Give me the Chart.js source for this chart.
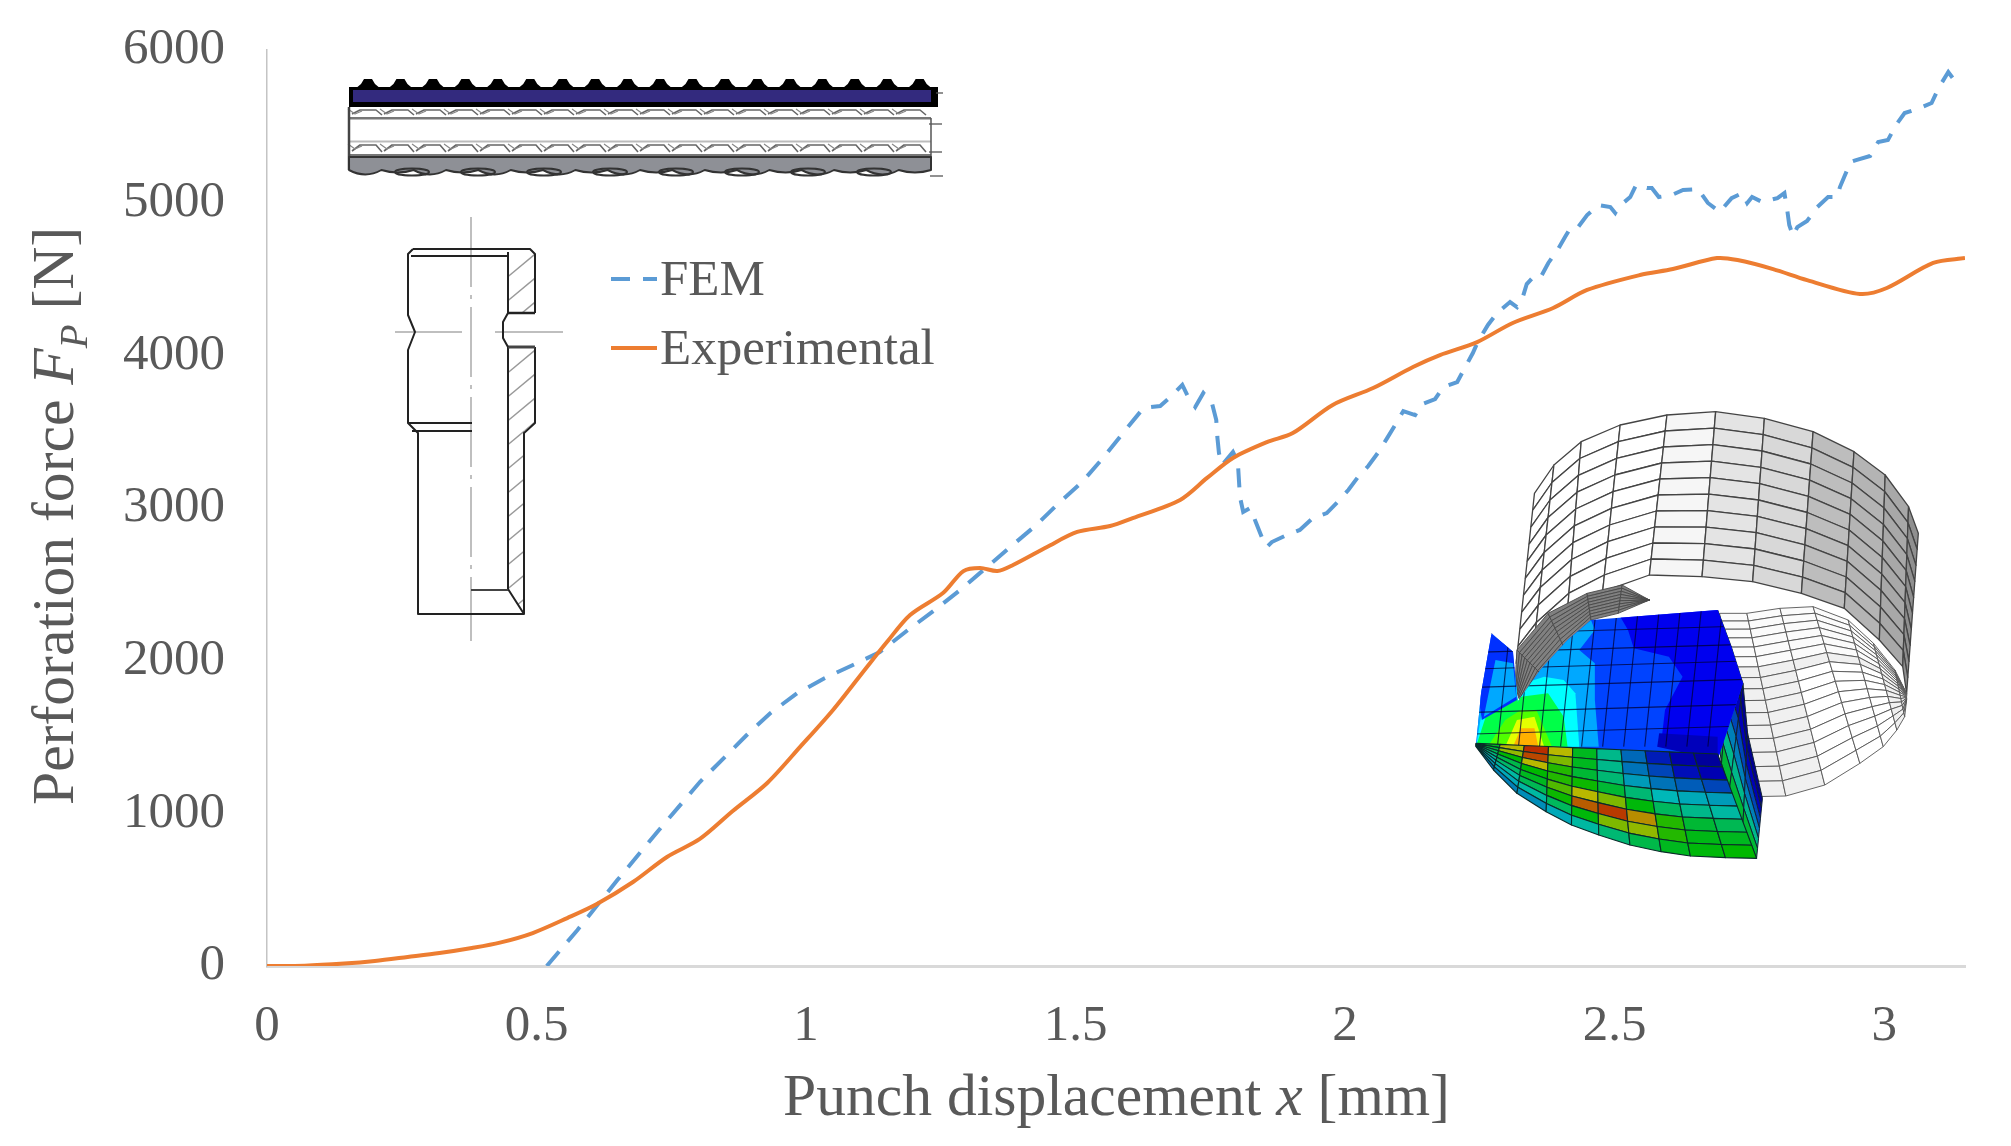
<!DOCTYPE html>
<html>
<head>
<meta charset="utf-8">
<title>Perforation force</title>
<script src="https://cdn.jsdelivr.net/npm/chart.js@4/dist/chart.umd.min.js"></script>
<style>
  html, body { margin: 0; padding: 0; background: #fff; }
  canvas { display: block; }
</style>
</head>
<body>
<canvas id="forceChart" width="2011" height="1146" style="width:2011px;height:1146px"></canvas>
<script>
/* =========================================
   Data
   ========================================= */
var femX = [0.519, 0.576, 0.65, 0.724, 0.803, 0.89, 0.934, 0.984, 1.035, 1.087, 1.137, 1.189, 1.239, 1.286, 1.379, 1.425, 1.467, 1.512, 1.551, 1.588, 1.626, 1.657, 1.676, 1.698, 1.709, 1.722, 1.737, 1.753, 1.761, 1.763, 1.766, 1.772, 1.792, 1.801, 1.805, 1.811, 1.824, 1.835, 1.846, 1.855, 1.864, 1.892, 1.916, 1.94, 1.966, 1.986, 2.006, 2.024, 2.043, 2.062, 2.078, 2.093, 2.108, 2.13, 2.143, 2.167, 2.182, 2.208, 2.222, 2.237, 2.246, 2.265, 2.282, 2.306, 2.319, 2.328, 2.337, 2.349, 2.362, 2.377, 2.394, 2.408, 2.418, 2.431, 2.449, 2.47, 2.492, 2.501, 2.507, 2.529, 2.54, 2.56, 2.569, 2.582, 2.606, 2.627, 2.655, 2.673, 2.695, 2.717, 2.737, 2.746, 2.755, 2.774, 2.802, 2.815, 2.82, 2.824, 2.831, 2.839, 2.857, 2.876, 2.896, 2.913, 2.918, 2.929, 2.937, 2.948, 2.974, 2.989, 3.007, 3.022, 3.038, 3.066, 3.088, 3.101, 3.119, 3.138];
var femY = [0, 236, 563, 878, 1205, 1513, 1657, 1788, 1886, 1972, 2057, 2201, 2332, 2463, 2745, 2882, 3026, 3170, 3328, 3491, 3655, 3668, 3727, 3806, 3727, 3662, 3753, 3688, 3576, 3465, 3360, 3282, 3367, 3301, 3072, 2974, 3000, 2902, 2804, 2745, 2777, 2823, 2856, 2934, 2967, 3039, 3118, 3203, 3275, 3367, 3458, 3544, 3635, 3609, 3681, 3714, 3792, 3825, 3917, 4015, 4087, 4199, 4277, 4349, 4316, 4362, 4467, 4513, 4506, 4605, 4690, 4775, 4834, 4834, 4919, 4985, 4971, 4932, 4971, 5037, 5116, 5096, 5096, 5037, 5050, 5083, 5089, 4998, 4939, 5030, 5063, 4998, 5037, 5004, 5030, 5063, 4958, 4854, 4782, 4840, 4880, 4971, 5037, 5037, 5102, 5194, 5266, 5279, 5306, 5397, 5410, 5509, 5587, 5620, 5653, 5751, 5856, 5764];

var expX = [0, 0.07, 0.143, 0.2, 0.261, 0.32, 0.38, 0.432, 0.493, 0.557, 0.612, 0.679, 0.742, 0.803, 0.864, 0.928, 0.989, 1.05, 1.113, 1.15, 1.193, 1.254, 1.292, 1.323, 1.355, 1.384, 1.447, 1.503, 1.564, 1.606, 1.694, 1.744, 1.792, 1.855, 1.903, 1.977, 2.052, 2.126, 2.176, 2.245, 2.311, 2.386, 2.449, 2.547, 2.608, 2.69, 2.728, 2.794, 2.857, 2.955, 3.005, 3.091, 3.15];
var expY = [0, 2, 16, 33, 59, 85, 118, 153, 216, 314, 406, 550, 714, 832, 1015, 1199, 1435, 1677, 1959, 2122, 2299, 2443, 2587, 2607, 2587, 2627, 2745, 2843, 2882, 2934, 3053, 3197, 3328, 3432, 3491, 3675, 3786, 3924, 4002, 4087, 4212, 4310, 4428, 4526, 4565, 4637, 4624, 4565, 4493, 4402, 4441, 4605, 4637];

var xTicks = [0, 0.5, 1, 1.5, 2, 2.5, 3];
var yTicks = [0, 1000, 2000, 3000, 4000, 5000, 6000];
var seriesNames = ['FEM', 'Experimental'];

var xMax = 3.15;
var yMax = 6000;
var textColor = '#595959';
var serif = '"Liberation Serif", "Times New Roman", serif';

function pairs(xs, ys) {
    return xs.map(function(x, i) { return { x: x, y: ys[i] }; });
}

/* =========================================
   Text pieces Chart.js cannot mix in one title
   ========================================= */
function drawRuns(ctx, runs, x, y) {
    runs.forEach(function(r) {
        ctx.font = r.font;
        ctx.fillText(r.text, x, y + (r.drop || 0));
        x += ctx.measureText(r.text).width;
    });
}

var labelsPlugin = {
    id: 'labelsPlugin',
    afterDraw: function(chart) {
        var ctx = chart.ctx;
        var plain = '59.6px ' + serif;
        var ital = 'italic 59.6px ' + serif;
        ctx.save();
        ctx.fillStyle = textColor;
        ctx.textAlign = 'left';
        ctx.textBaseline = 'alphabetic';

        // axis titles
        drawRuns(ctx, [
            { text: 'Punch displacement ', font: plain },
            { text: 'x', font: ital },
            { text: ' [mm]', font: plain }
        ], 783, 1115);
        ctx.save();
        ctx.translate(73, 805);
        ctx.rotate(-Math.PI / 2);
        drawRuns(ctx, [
            { text: 'Perforation force ', font: plain },
            { text: 'F', font: ital },
            { text: 'P', font: 'italic 39px ' + serif, drop: 14 },
            { text: ' [N]', font: plain }
        ], 0, 0);
        ctx.restore();

        // legend
        var ys = [295, 364];
        chart.data.datasets.forEach(function(ds, i) {
            ctx.save();
            ctx.strokeStyle = ds.borderColor;
            ctx.lineWidth = 4;
            ctx.setLineDash(ds.borderDash || []);
            ctx.beginPath();
            ctx.moveTo(611, ys[i] - 16);
            ctx.lineTo(657, ys[i] - 16);
            ctx.stroke();
            ctx.restore();
            ctx.font = '51px ' + serif;
            ctx.fillText(ds.label, 660, ys[i]);
        });
        ctx.restore();
    }
};

/* =========================================
   Insets (drawings, not data)
   ========================================= */
function line(ctx, pts, color, width, dash) {
    ctx.strokeStyle = color;
    ctx.lineWidth = width;
    ctx.setLineDash(dash || []);
    ctx.beginPath();
    pts.forEach(function(p, i) { i ? ctx.lineTo(p[0], p[1]) : ctx.moveTo(p[0], p[1]); });
    ctx.stroke();
    ctx.setLineDash([]);
}

function shape(ctx, pts, fill, stroke, width) {
    ctx.beginPath();
    pts.forEach(function(p, i) { i ? ctx.lineTo(p[0], p[1]) : ctx.moveTo(p[0], p[1]); });
    ctx.closePath();
    if (fill) { ctx.fillStyle = fill; ctx.fill(); }
    if (stroke) { ctx.strokeStyle = stroke; ctx.lineWidth = width || 1; ctx.stroke(); }
}

function drawStrip(ctx) {
    var i, x;
    // bumps on the top
    for (i = 0; i < 18; i++) {
        x = 368 + i * 32.45;
        shape(ctx, [[x - 13, 89], [x - 7, 84], [x - 4, 79], [x + 4, 79], [x + 7, 84], [x + 13, 89]], '#000');
    }
    ctx.fillStyle = '#000';
    ctx.fillRect(349, 87, 589, 20);
    ctx.fillStyle = '#332A7E';
    ctx.fillRect(353, 90, 578, 12);

    // fibre layers
    ctx.fillStyle = '#fff';
    ctx.fillRect(349, 107, 582, 56);
    [[108, 117], [143, 154]].forEach(function(b) {
        ctx.fillStyle = '#777';
        ctx.fillRect(349, b[1], 582, 2.5);
        for (x = 352; x < 925; x += 32) {
            line(ctx, [[x, b[1] - 3], [x + 8, b[0] + 2], [x + 24, b[0] + 2], [x + 30, b[1] - 2]], '#666', 1.6);
            line(ctx, [[x - 4, b[0] + 1], [x + 3, b[0] + 6], [x + 10, b[0] + 3]], '#888', 1.2);
        }
    });
    line(ctx, [[350, 141.5], [931, 141.5]], '#bbb', 2);
    line(ctx, [[349, 107], [349, 170]], '#444', 2.5);
    line(ctx, [[931, 118], [931, 165]], '#555', 1.5);

    // grey lower layer with scallops
    ctx.beginPath();
    ctx.moveTo(349, 157);
    ctx.lineTo(931, 157);
    ctx.lineTo(931, 170);
    for (i = 0; i < 18; i++) {
        x = 931 - i * 32.33;
        ctx.quadraticCurveTo(x - 16, i % 2 ? 179 : 175, x - 32.33, 170);
    }
    ctx.closePath();
    ctx.fillStyle = '#8E9096';
    ctx.fill();
    ctx.strokeStyle = '#333';
    ctx.lineWidth = 2;
    ctx.stroke();
    for (x = 379; x < 900; x += 66) {
        ctx.beginPath();
        ctx.ellipse(x + 33, 172, 17, 3.5, 0, 0, Math.PI * 2);
        ctx.stroke();
    }
    // short marks at the cut end
    [[93, 936, 943], [124, 929, 942], [152, 929, 942], [176, 930, 943]].forEach(function(m) {
        line(ctx, [[m[1], m[0]], [m[2], m[0]]], '#555', 1.3);
    });
}

function drawPunch(ctx) {
    var black = '#222', grey = '#aaa';

    // centre lines
    line(ctx, [[471, 217], [471, 641]], grey, 1.5, [70, 8, 4, 8]);
    line(ctx, [[395, 332], [462, 332]], grey, 1.5);
    line(ctx, [[495, 332], [563, 332]], grey, 1.5);

    // hatching of the wall section
    ctx.save();
    ctx.beginPath();
    ctx.rect(508, 252, 26, 61);
    ctx.rect(508, 347, 26, 76);
    ctx.moveTo(508, 423); ctx.lineTo(534, 423); ctx.lineTo(524, 431); ctx.lineTo(524, 614); ctx.lineTo(508, 589);
    ctx.closePath();
    ctx.clip();
    for (var y = 250; y < 640; y += 24) {
        line(ctx, [[504, y + 30], [540, y]], '#999', 1.4);
    }
    ctx.restore();

    // outline
    line(ctx, [[413, 249], [530, 249], [535, 254], [535, 313]], black, 2);
    line(ctx, [[413, 249], [408, 254], [408, 315], [415, 332], [408, 350], [408, 423], [418, 433], [418, 614], [524, 614], [524, 433], [535, 423], [535, 347]], black, 2);
    line(ctx, [[411, 256], [508, 256]], black, 2);
    line(ctx, [[508, 252], [508, 313]], black, 2);
    line(ctx, [[508, 347], [508, 589], [524, 614]], black, 2);
    line(ctx, [[508, 313], [535, 313]], black, 2.5);
    line(ctx, [[508, 347], [535, 347]], '#444', 3);
    line(ctx, [[508, 313], [503, 322], [503, 338], [508, 347]], black, 2);
    line(ctx, [[408, 423], [472, 423]], black, 2);
    line(ctx, [[412, 431], [472, 431]], black, 2);
    line(ctx, [[471, 590], [508, 590]], '#444', 2);
}

// the crop of the FE model was measured in its own zoomed coordinates
function fe(p) { return [1400 + p[0] / 2.566, 400 + p[1] / 3]; }
function feAll(pts) { return pts.map(fe); }
function lerp(a, b, t) { return [a[0] + (b[0] - a[0]) * t, a[1] + (b[1] - a[1]) * t]; }

var rainbow = [
    [0, 0, 0, 176], [0.1, 0, 0, 255], [0.2, 0, 96, 255], [0.3, 0, 176, 255], [0.38, 0, 255, 255],
    [0.45, 0, 255, 144], [0.55, 0, 255, 0], [0.65, 160, 255, 0], [0.72, 255, 255, 0],
    [0.8, 255, 176, 0], [0.9, 255, 80, 0], [1, 255, 0, 0]
];
function jetCss(v, shade) {
    for (var i = 1; i < rainbow.length; i++) {
        if (v <= rainbow[i][0]) { break; }
    }
    var a = rainbow[i - 1], b = rainbow[Math.min(i, rainbow.length - 1)];
    var t = (v - a[0]) / ((b[0] - a[0]) || 1);
    var mix = function(k) { return Math.round((a[k] + (b[k] - a[k]) * t) * shade); };
    return 'rgb(' + mix(1) + ',' + mix(2) + ',' + mix(3) + ')';
}

function meshBand(ctx, top, bottom, rows, fill, lineColor, width, spacing) {
    for (var c = 0; c < top.length - 1; c++) {
        for (var r = 0; r < rows; r++) {
            var t0 = spacing ? spacing(r / rows) : r / rows;
            var t1 = spacing ? spacing((r + 1) / rows) : (r + 1) / rows;
            shape(ctx, feAll([lerp(top[c], bottom[c], t0), lerp(top[c + 1], bottom[c + 1], t0),
                lerp(top[c + 1], bottom[c + 1], t1), lerp(top[c], bottom[c], t1)]), fill(c, r), lineColor, width);
        }
    }
}

function drawModel(ctx) {
    // wall of the ring, its lower left runs on behind the dark band
    var wallTop = [[345, 280], [395, 195], [465, 125], [565, 75], [685, 45], [810, 35], [935, 55], [1060, 95], [1165, 155], [1245, 225], [1305, 320], [1330, 400]];
    var wallBot = [[298, 790], [345, 720], [430, 630], [520, 575], [640, 525], [775, 530], [905, 545], [1030, 580], [1140, 625], [1230, 720], [1290, 800], [1300, 880]];
    var wallGrey = ['#fff', '#fff', '#fff', '#fff', '#f6f6f6', '#e4e4e4', '#d8d8d8', '#bdbdbd', '#b4b4b4', '#a8a8a8', '#8f8f8f'];
    meshBand(ctx, wallTop, wallBot, 10, function(c) { return wallGrey[c]; }, '#444', 1.3);

    // lower flared part seen through the ring
    var ringTop = [[820, 640], [890, 640], [975, 625], [1060, 620], [1150, 660], [1215, 730], [1270, 810], [1300, 880]];
    var ringBot = [[905, 1190], [990, 1188], [1090, 1155], [1180, 1090], [1240, 1040], [1275, 990], [1295, 950], [1300, 900]];
    meshBand(ctx, ringTop, ringBot, 16, function(c, r) { return c > 1 && c < 5 && r > 6 ? '#fff' : (r < 6 ? '#fbfbfb' : '#f0f0f0'); }, '#555', 0.9,
        function(t) { return t * t * 0.35 + t * 0.65; });

    // dark inner band
    var bandTop = [[295, 860], [300, 750], [380, 640], [480, 580], [570, 555], [640, 600]];
    var bandBot = [[310, 910], [360, 820], [420, 740], [490, 660], [560, 640], [640, 600]];
    meshBand(ctx, bandTop, bandBot, 9, function() { return '#808080'; }, '#4a4a4a', 0.9);

    // side of the solid quarter
    var sideTop = [[815, 630], [850, 740], [880, 850], [892, 1000], [930, 1195]];
    var sideBot = [[815, 1000], [825, 1090], [845, 1170], [880, 1270], [915, 1375]];
    meshBand(ctx, sideTop, sideBot, 6, function(c, r) { return jetCss([0.03, 0.1, 0.2, 0.3, 0.42, 0.5][r], 0.72); }, '#123', 1);

    // upper face: colour zones, painter's order
    var face = [[235, 700], [290, 755], [302, 905], [360, 810], [430, 720], [490, 660], [815, 630], [850, 740], [880, 850], [815, 1080], [195, 1035], [208, 880]];
    ctx.save();
    shape(ctx, feAll(face), jetCss(0.17, 1));
    ctx.clip();
    [
        [[560, 640], [830, 620], [890, 850], [815, 1080], [670, 1030], [680, 930], [725, 830], [690, 770], [600, 745], [585, 690]], jetCss(0.08, 1),
        [[665, 1000], [815, 1010], [815, 1080], [660, 1040]], jetCss(0.04, 0.9),
        [[490, 660], [500, 690], [460, 750], [500, 790], [500, 900], [510, 1040], [195, 1040], [200, 870], [340, 790], [430, 720]], jetCss(0.29, 1),
        [[370, 830], [420, 840], [450, 880], [460, 1040], [195, 1040], [215, 900], [290, 860]], jetCss(0.38, 1),
        [[310, 890], [380, 880], [420, 950], [430, 1040], [195, 1040], [220, 950]], jetCss(0.5, 1),
        [[230, 700], [290, 750], [300, 900], [210, 960], [200, 880]], jetCss(0.15, 1),
        [[245, 780], [290, 790], [298, 890], [215, 950]], jetCss(0.29, 1),
        [[225, 1040], [270, 960], [310, 930], [350, 930], [390, 1040]], jetCss(0.6, 1),
        [[270, 1040], [300, 960], [345, 950], [370, 1040]], jetCss(0.7, 1),
        [[290, 1040], [310, 985], [345, 985], [355, 1040]], jetCss(0.8, 1)
    ].forEach(function(z, i, all) {
        if (i % 2 === 0) { shape(ctx, feAll(z), all[i + 1]); }
    });
    // element lines on the face
    for (var i = 0; i < 11; i++) {
        var xb = 250 + i * 54;
        line(ctx, feAll([[xb, 1040], [xb + 38, 620]]), 'rgba(0,0,50,.75)', 1.1);
    }
    [690, 745, 795, 850, 925, 990].forEach(function(y) {
        line(ctx, feAll([[190, y + 12], [890, y - 12]]), 'rgba(0,0,50,.75)', 1.1);
    });
    ctx.restore();

    // lower fan with the two hot streaks
    var fanTop = [];
    var fanBot = [];
    var topEnds = [[195, 1030], [815, 1062]];
    var arc = [[195, 1040], [240, 1110], [300, 1180], [375, 1235], [440, 1275], [510, 1305], [590, 1335], [670, 1355], [745, 1368], [835, 1373], [915, 1375]];
    arc.forEach(function(p, k) {
        fanTop.push(lerp(topEnds[0], topEnds[1], k / (arc.length - 1)));
        fanBot.push(p);
    });
    var fanVal = [
        [0.52, 0.72, 0.92, 0.72, 0.52, 0.42, 0.26, 0.14, 0.08, 0.05],
        [0.5, 0.68, 0.88, 0.66, 0.52, 0.42, 0.28, 0.2, 0.12, 0.09],
        [0.47, 0.55, 0.72, 0.58, 0.5, 0.44, 0.34, 0.28, 0.24, 0.2],
        [0.43, 0.48, 0.55, 0.58, 0.56, 0.5, 0.44, 0.38, 0.36, 0.34],
        [0.4, 0.45, 0.52, 0.62, 0.72, 0.66, 0.54, 0.46, 0.42, 0.4],
        [0.36, 0.4, 0.47, 0.56, 0.85, 0.9, 0.78, 0.58, 0.5, 0.47],
        [0.34, 0.36, 0.4, 0.46, 0.54, 0.66, 0.68, 0.58, 0.53, 0.52],
        [0.28, 0.3, 0.32, 0.36, 0.4, 0.44, 0.48, 0.52, 0.54, 0.55]
    ];
    meshBand(ctx, fanTop, fanBot, 8, function(c, r) { return jetCss(fanVal[r][c], 0.72); }, '#0a2a2a', 1.1);
}

var insetsPlugin = {
    id: 'insetsPlugin',
    beforeDatasetsDraw: function(chart) {
        var ctx = chart.ctx;
        ctx.save();
        ctx.lineJoin = 'round';
        ctx.filter = 'blur(0.7px)';
        drawStrip(ctx);
        drawPunch(ctx);
        drawModel(ctx);
        ctx.restore();
    }
};

/* =========================================
   Force-displacement chart
   ========================================= */
var ctx = document.getElementById('forceChart').getContext('2d');

var forceChart = new Chart(ctx, {
    type: 'line',
    data: {
        datasets: [{
            label: seriesNames[0],
            data: pairs(femX, femY),
            borderColor: '#5B9BD5',
            borderWidth: 4,
            borderDash: [19, 13],
            tension: 0,
            pointRadius: 0,
            order: 2
        }, {
            label: seriesNames[1],
            data: pairs(expX, expY),
            borderColor: '#ED7D31',
            borderWidth: 4,
            tension: 0.3,
            pointRadius: 0,
            order: 1
        }]
    },
    options: {
        responsive: false,
        animation: false,
        devicePixelRatio: 1,
        layout: { padding: { top: 50, right: 46, left: 0, bottom: 0 } },
        plugins: {
            legend: { display: false },
            title: { display: false },
            tooltip: { enabled: false }
        },
        scales: {
            x: {
                type: 'linear',
                min: 0,
                max: xMax,
                grid: { display: false, drawTicks: false },
                border: { color: '#D9D9D9', width: 3 },
                afterFit: function(scale) {
                    scale.height = 180;
                    scale.paddingLeft = 0;
                    scale.paddingRight = 0;
                },
                afterBuildTicks: function(scale) {
                    scale.ticks = xTicks.map(function(v) { return { value: v }; });
                },
                ticks: {
                    maxRotation: 0,
                    autoSkip: false,
                    padding: 30,
                    color: textColor,
                    font: { family: serif, size: 51 },
                    callback: function(v) { return String(v); }
                }
            },
            y: {
                min: 0,
                max: yMax,
                grid: { display: false, drawTicks: false },
                border: { color: '#C4C4C4', width: 1.5 },
                afterFit: function(scale) {
                    scale.width = 267;
                    scale.paddingTop = 0;
                    scale.paddingBottom = 0;
                },
                afterBuildTicks: function(scale) {
                    scale.ticks = yTicks.map(function(v) { return { value: v }; });
                },
                ticks: {
                    autoSkip: false,
                    padding: 42,
                    color: textColor,
                    font: { family: serif, size: 51 },
                    callback: function(v) { return String(v); }
                }
            }
        }
    },
    plugins: [insetsPlugin, labelsPlugin]
});
</script>
</body>
</html>
